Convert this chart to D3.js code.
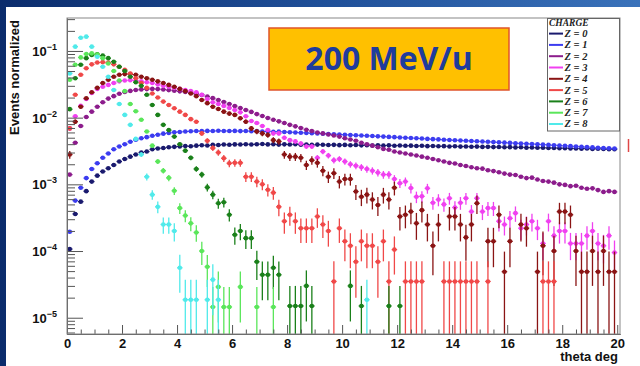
<!DOCTYPE html>
<html>
<head>
<meta charset="utf-8">
<script src="https://cdn.jsdelivr.net/npm/d3@7"></script>
<style>
  html, body { margin: 0; padding: 0; background: #fff; }
  svg { display: block; }
</style>
</head>
<body>
<svg id="chart" width="640" height="366"></svg>
<script>
// ---- data: angular distributions of fragments, one histogram per charge ----
const binWidth = 0.2;               // deg
const charges = ["Z = 0", "Z = 1", "Z = 2", "Z = 3", "Z = 4", "Z = 5", "Z = 6", "Z = 7", "Z = 8"];
const seriesColors = ["#1a1a6e", "#3c3cf0", "#8c1c8c", "#f040f0", "#8a1414", "#f04848", "#1a801a", "#5ae65a", "#50eaea"];
// normalized weight of one entry in each histogram (sets the Poisson error bars)
const entryWeight = [5e-7, 5e-7, 5e-7, 2.5e-5, 4.9e-5, 3.5e-5, 1.5e-5, 1.45e-5, 1.86e-5];

const xTickLabels = ["0", "2", "4", "6", "8", "10", "12", "14", "16", "18", "20"];
const yDecades = [-5, -4, -3, -2, -1];

const z0Values = [
  1.07e-4, 3.6e-4, 5.5e-4, 7.9e-4, 1.1e-3, 1.35e-3, 1.56e-3, 1.74e-3, 1.95e-3, 2.2e-3,
  2.4e-3, 2.6e-3, 2.8e-3, 3.0e-3, 3.1e-3, 3.35e-3, 3.45e-3, 3.5e-3, 3.6e-3, 3.65e-3,
  3.7e-3, 3.75e-3, 3.72e-3, 3.8e-3, 3.85e-3, 3.82e-3, 3.9e-3, 3.88e-3, 3.95e-3, 3.92e-3,
  3.97e-3, 3.95e-3, 4.0e-3, 3.96e-3, 3.99e-3, 4.02e-3, 3.97e-3, 4.0e-3, 3.94e-3, 3.98e-3,
  3.95e-3, 3.99e-3, 3.93e-3, 3.96e-3, 3.9e-3, 3.94e-3, 3.92e-3, 3.88e-3, 3.91e-3, 3.87e-3,
  3.9e-3, 3.86e-3, 3.88e-3, 3.84e-3, 3.87e-3, 3.83e-3, 3.86e-3, 3.8e-3, 3.84e-3, 3.79e-3,
  3.82e-3, 3.78e-3, 3.8e-3, 3.75e-3, 3.78e-3, 3.74e-3, 3.76e-3, 3.72e-3, 3.74e-3, 3.7e-3,
  3.72e-3, 3.68e-3, 3.7e-3, 3.66e-3, 3.68e-3, 3.64e-3, 3.65e-3, 3.62e-3, 3.63e-3, 3.6e-3,
  3.61e-3, 3.58e-3, 3.59e-3, 3.55e-3, 3.56e-3, 3.53e-3, 3.54e-3, 3.5e-3, 3.51e-3, 3.48e-3,
  3.49e-3, 3.46e-3, 3.45e-3, 3.43e-3, 3.44e-3, 3.4e-3, 3.41e-3, 3.38e-3, 3.37e-3, 3.35e-3
];
const z1Values = [
  1.95e-4, 5.7e-4, 8.9e-4, 1.24e-3, 1.7e-3, 2.07e-3, 2.5e-3, 2.9e-3, 3.35e-3, 3.7e-3,
  4.0e-3, 4.35e-3, 4.65e-3, 4.9e-3, 5.1e-3, 5.35e-3, 5.55e-3, 5.75e-3, 5.9e-3, 6.05e-3,
  6.1e-3, 6.2e-3, 6.25e-3, 6.3e-3, 6.28e-3, 6.33e-3, 6.3e-3, 6.35e-3, 6.32e-3, 6.3e-3,
  6.33e-3, 6.28e-3, 6.3e-3, 6.25e-3, 6.27e-3, 6.2e-3, 6.22e-3, 6.15e-3, 6.17e-3, 6.1e-3,
  6.05e-3, 6.0e-3, 5.95e-3, 5.9e-3, 5.85e-3, 5.8e-3, 5.74e-3, 5.7e-3, 5.64e-3, 5.6e-3,
  5.55e-3, 5.5e-3, 5.44e-3, 5.4e-3, 5.35e-3, 5.3e-3, 5.24e-3, 5.2e-3, 5.14e-3, 5.1e-3,
  5.05e-3, 5.0e-3, 4.95e-3, 4.9e-3, 4.86e-3, 4.8e-3, 4.76e-3, 4.72e-3, 4.67e-3, 4.63e-3,
  4.58e-3, 4.55e-3, 4.5e-3, 4.46e-3, 4.42e-3, 4.38e-3, 4.34e-3, 4.3e-3, 4.26e-3, 4.22e-3,
  4.18e-3, 4.14e-3, 4.1e-3, 4.06e-3, 4.02e-3, 3.98e-3, 3.94e-3, 3.9e-3, 3.86e-3, 3.82e-3,
  3.78e-3, 3.74e-3, 3.7e-3, 3.66e-3, 3.62e-3, 3.58e-3, 3.54e-3, 3.5e-3, 3.47e-3, 3.44e-3
];
const z2Values = [
  1.4e-3, 4.2e-3, 7.5e-3, 0.0102, 0.0123, 0.0146, 0.017, 0.0193, 0.021, 0.0228,
  0.0242, 0.0252, 0.026, 0.0265, 0.0268, 0.027, 0.0268, 0.0264, 0.0259, 0.0254,
  0.0248, 0.0242, 0.0235, 0.0227, 0.0219, 0.0207, 0.0196, 0.0184, 0.0172, 0.016,
  0.0149, 0.0139, 0.013, 0.0122, 0.0113, 0.0106, 0.0099, 0.0093, 0.0088, 0.0083,
  0.0078, 0.0074, 0.007, 0.0066, 0.0063, 0.006, 0.0058, 0.0056, 0.0054, 0.0052,
  0.0049, 0.0047, 0.0045, 0.0042, 0.004, 0.0038, 0.0036, 0.0034, 0.0033, 0.0031,
  0.003, 0.0029, 0.0028, 0.0027, 0.0026, 0.0025, 0.0024, 0.0023, 0.0022, 0.0021,
  0.00205, 0.00195, 0.00188, 0.0018, 0.00174, 0.00172, 0.00163, 0.00158, 0.00152, 0.00145,
  0.0014, 0.00138, 0.0013, 0.00124, 0.00126, 0.00118, 0.00112, 0.0011, 0.00106, 0.001,
  0.00098, 0.00094, 0.00095, 0.00089, 0.00086, 0.00087, 0.00082, 0.00077, 0.00079, 0.00077
];
const z3Values = [
  0.0069, 0.0105, 0.015, 0.019, 0.0235, 0.027, 0.029, 0.031, 0.033, 0.035,
  0.036, 0.0365, 0.036, 0.035, 0.034, 0.033, 0.0315, 0.03, 0.029, 0.028,
  0.027, 0.026, 0.025, 0.024, 0.022, 0.019, 0.017, 0.016, 0.015, 0.014,
  0.013, 0.012, 0.0105, 0.0089, 0.0083, 0.0075, 0.0065, 0.0058, 0.0058, 0.005,
  0.0046, 0.0044, 0.0041, 0.0037, 0.0037, 0.0025, 0.0031, 0.0027, 0.0023, 0.0024,
  0.0022, 0.002, 0.0019, 0.0018, 0.0017, 0.0016, 0.0015, 0.0014, 0.0014, 0.0012,
  0.00104, 0.0011, 0.00088, 0.00065, 0.00066, 0.00087, 0.00053, 0.00059, 0.0005, 0.00062,
  0.00045, 0.00053, 0.00062, 0.00039, 0.00062, 0.00039, 0.00044, 0.00044, 0.00028, 0.00025,
  0.00031, 0.00037, 0.00022, 0.00025, 0.00028, 0.00022, 0.00013, 0.00028, 0.00017, 0.0002,
  0.0002, 0.00013, 0.00013, 0.00013, 0.00017, 0.0002, 0.00013, 0.00012, 0.00017, 0.000095
];
const z4Values = [
  0.0028, 0.0087, 0.0146, 0.0195, 0.024, 0.028, 0.033, 0.037, 0.041, 0.044,
  0.045, 0.045, 0.044, 0.041, 0.039, 0.037, 0.035, 0.033, 0.031, 0.029,
  0.027, 0.025, 0.023, 0.021, 0.0184, 0.0165, 0.0146, 0.0135, 0.0123, 0.0115,
  0.011, 0.0098, 0.0087, 0.0069, 0.0062, 0.0058, 0.0055, 0.0046, 0.0044, 0.0028,
  0.0026, 0.0026, 0.0025, 0.00195, 0.0023, 0.0021, 0.0016, 0.0013, 0.00147, 0.0011,
  0.0012, 0.0012, 0.00078, 0.00065, 0.0007, 0.00059, 0.00049, 0.0007, 0.00059, 0.00089,
  0.00033, 0.00035, 0.00039, 0.00026, 0.00041, 0.00025, 0.00012, 0.00025, 0, 0.00033,
  0.00033, 0.00025, 0.00016, 0.00025, 0.00052, 0, 0.00014, 0.00014, 0.00035, 0.000049,
  0.00014, 0, 0.00025, 0.00022, 0, 0.000049, 0.00012, 0, 0.0001, 0.00039,
  0.00039, 0.00035, 0.0001, 0.000049, 0.000049, 0.0001, 0.000049, 0.0001, 0.000049, 0.000049
];
const z5Values = [
  0.0069, 0.022, 0.044, 0.055, 0.063, 0.067, 0.068, 0.067, 0.063, 0.058,
  0.052, 0.046, 0.039, 0.033, 0.028, 0.023, 0.02, 0.0174, 0.0155, 0.0138,
  0.0123, 0.011, 0.0095, 0.0087, 0.0058, 0.0045, 0.0035, 0.003, 0.00246, 0.00207,
  0.0021, 0.0021, 0.0013, 0.0013, 0.0011, 0.001, 0.00083, 0.00075, 0.00046, 0.00028,
  0.00035, 0.00028, 0.00022, 0.00022, 0.00022, 0.00033, 0.00025, 0.0002, 0.000035, 0.00022,
  0.00014, 0.00012, 0.000069, 0.00014, 0.00012, 0.00012, 0.000069, 0.00014, 0.000035, 0.000105,
  0, 0.000035, 0.000035, 0.000035, 0.000035, 0, 0, 0, 0.000035, 0.000035,
  0.000035, 0.000035, 0.000035, 0.000035, 0.000035, 0, 0.000035, 0, 0, 0,
  0, 0, 0, 0, 0, 0, 0.000035, 0.000035, 0.000035, 0,
  0, 0, 0, 0, 0, 0, 0, 0, 0, 0
];
const z6Values = [
  0.0134, 0.039, 0.062, 0.078, 0.087, 0.089, 0.085, 0.078, 0.069, 0.058,
  0.05, 0.041, 0.034, 0.03, 0.022, 0.0155, 0.011, 0.0078, 0.0065, 0.0052,
  0.004, 0.0032, 0.0025, 0.0017, 0.0014, 0.0009, 0.0007, 0.00052, 0.00054, 0.00035,
  0.000175, 0.0002, 0.000156, 0.000156, 0.000069, 0.000044, 0.000044, 0.000056, 0.000044, 0,
  0.000015, 0.000015, 0.000015, 0.00003, 0.000015, 0, 0, 0, 0, 0,
  0, 0.00003, 0, 0.000015, 0, 0, 0, 0, 0.000015, 0,
  0.000015, 0, 0, 0, 0, 0, 0, 0, 0, 0,
  0, 0, 0, 0, 0, 0, 0, 0, 0, 0,
  0, 0, 0, 0, 0, 0, 0, 0, 0, 0,
  0, 0, 0, 0, 0, 0, 0, 0, 0, 0
];
const z7Values = [
  0.037, 0.062, 0.08, 0.09, 0.092, 0.088, 0.078, 0.065, 0.05, 0.036,
  0.025, 0.016, 0.0125, 0.0093, 0.0062, 0.0038, 0.0022, 0.0016, 0.00125, 0.0008,
  0.00044, 0.00034, 0.00026, 0.00019, 0.0001, 0.000058, 0.0000145, 0.000029, 0.0000145, 0.0000145,
  0, 0.000029, 0, 0, 0.0000145, 0, 0, 0.0000145, 0, 0,
  0, 0, 0, 0, 0, 0, 0, 0, 0, 0,
  0, 0, 0, 0, 0, 0, 0, 0, 0, 0,
  0, 0, 0, 0, 0, 0, 0, 0, 0, 0,
  0, 0, 0, 0, 0, 0, 0, 0, 0, 0,
  0, 0, 0, 0, 0, 0, 0, 0, 0, 0,
  0, 0, 0, 0, 0, 0, 0, 0, 0, 0
];
const z8Values = [
  0.046, 0.116, 0.158, 0.164, 0.116, 0.082, 0.058, 0.041, 0.026, 0.016,
  0.011, 0.0078, 0.0048, 0.0028, 0.0013, 0.0007, 0.00046, 0.00025, 0.00025, 0.0002,
  0.000056, 0.0000186, 0.0000186, 0.0000186, 0, 0.0000186, 0.0000372, 0.0000186, 0, 0,
  0, 0, 0, 0, 0, 0, 0, 0, 0, 0,
  0, 0, 0, 0, 0, 0, 0, 0, 0, 0,
  0, 0, 0, 0, 0.0000186, 0, 0, 0, 0, 0,
  0, 0, 0, 0, 0, 0, 0, 0, 0, 0,
  0, 0, 0, 0, 0, 0, 0, 0, 0, 0,
  0, 0, 0, 0, 0, 0, 0, 0, 0, 0,
  0, 0, 0, 0, 0, 0, 0, 0, 0, 0
];
const seriesValues = [z0Values, z1Values, z2Values, z3Values, z4Values, z5Values, z6Values, z7Values, z8Values];

// ---- layout ----
const W = 640, H = 366;
const frame = { left: 67, right: 620, top: 18, bottom: 334 };
const svg = d3.select("#chart");

// slide background and white panel
const defs = svg.append("defs");
const grad = defs.append("linearGradient").attr("id", "slideBg")
  .attr("x1", 0).attr("y1", 0).attr("x2", 1).attr("y2", 0);
grad.append("stop").attr("offset", 0).attr("stop-color", "#0b2c6c");
grad.append("stop").attr("offset", 0.5).attr("stop-color", "#1f4f98");
grad.append("stop").attr("offset", 1).attr("stop-color", "#3a72ba");
svg.append("rect").attr("width", W).attr("height", H).attr("fill", "url(#slideBg)");
svg.append("rect").attr("x", 6).attr("y", 7).attr("width", W - 6).attr("height", H - 7).attr("fill", "#fff");

// scales
const x = d3.scaleLinear().domain([0, 20.1]).range([frame.left, frame.right]);
const y = d3.scaleLog().domain([5.7e-6, 0.312]).range([frame.bottom, frame.top]);
const yMin = y.domain()[0];

const plot = svg.append("g");
const clip = defs.append("clipPath").attr("id", "plotClip");
clip.append("rect").attr("x", frame.left).attr("y", frame.top)
  .attr("width", frame.right - frame.left).attr("height", frame.bottom - frame.top);

// ---- histograms with error bars ----
const marks = plot.append("g").attr("clip-path", "url(#plotClip)");
seriesValues.forEach((vals, s) => {
  const color = seriesColors[s];
  const pts = vals.map((v, i) => ({ c: binWidth * (i + 0.5), v }))
                  .filter(d => d.v > 0);
  const g = marks.append("g").attr("stroke", color).attr("fill", color);
  pts.forEach(d => {
    const err = Math.sqrt(d.v * entryWeight[s]);
    const lo = d.v - err > yMin ? d.v - err : yMin;
    const hi = d.v + err;
    g.append("line")
      .attr("x1", x(d.c)).attr("x2", x(d.c))
      .attr("y1", y(lo)).attr("y2", y(hi))
      .attr("stroke-width", 1.3);
    g.append("line")
      .attr("x1", x(d.c - binWidth / 2)).attr("x2", x(d.c + binWidth / 2))
      .attr("y1", y(d.v)).attr("y2", y(d.v))
      .attr("stroke-width", 1.3);
    g.append("circle")
      .attr("cx", x(d.c)).attr("cy", y(d.v)).attr("r", 2.3)
      .attr("stroke", "none");
  });
});

// ---- axes (ROOT style: ticks pointing inwards) ----
const axisColor = "#555";
const xMajor = d3.range(0, 21, 2);
const xMinor = d3.range(0, 20.01, 0.5).filter(t => t % 2 !== 0);
const xMinorAxis = d3.axisBottom(x).tickValues(xMinor).tickSize(-4.5).tickSizeOuter(0).tickFormat("");
const xMajorAxis = d3.axisBottom(x).tickValues(xMajor).tickSize(-9).tickSizeOuter(0).tickPadding(5)
  .tickFormat((d, i) => xTickLabels[i]);
const gxm = svg.append("g").attr("transform", `translate(0,${frame.bottom})`).call(xMinorAxis);
const gx = svg.append("g").attr("transform", `translate(0,${frame.bottom})`).call(xMajorAxis);
[gxm, gx].forEach(g => {
  g.select(".domain").attr("stroke", axisColor);
  g.selectAll(".tick line").attr("stroke", axisColor);
});
gx.selectAll("text").attr("fill", "#111")
  .style("font-family", "'Liberation Sans', Arial, sans-serif")
  .style("font-size", "13px").style("font-weight", "bold");

const yMajorVals = yDecades.map(e => Math.pow(10, e));
const yMinorVals = [];
[-6, -5, -4, -3, -2, -1].forEach(e => {
  for (let k = 2; k <= 9; k++) {
    const v = k * Math.pow(10, e);
    if (v > y.domain()[0] && v < y.domain()[1]) yMinorVals.push(v);
  }
});
const yMinorAxis = d3.axisLeft(y).tickValues(yMinorVals).tickSize(-8).tickSizeOuter(0).tickFormat("");
const yMajorAxis = d3.axisLeft(y).tickValues(yMajorVals).tickSize(-16).tickSizeOuter(0).tickFormat("");
const gym = svg.append("g").attr("transform", `translate(${frame.left},0)`).call(yMinorAxis);
const gy = svg.append("g").attr("transform", `translate(${frame.left},0)`).call(yMajorAxis);
[gym, gy].forEach(g => {
  g.select(".domain").attr("stroke", axisColor);
  g.selectAll(".tick line").attr("stroke", axisColor);
});

// y tick labels as 10 with superscript exponent
yDecades.forEach(e => {
  const t = svg.append("text")
    .attr("x", 57).attr("y", y(Math.pow(10, e)) + 5)
    .attr("text-anchor", "end")
    .attr("fill", "#111")
    .style("font-family", "'Liberation Sans', Arial, sans-serif")
    .style("font-size", "13px").style("font-weight", "bold");
  t.append("tspan").text("10");
  t.append("tspan").attr("dy", -6).style("font-size", "9px").text("\u2212" + Math.abs(e));
});

// frame top/right
svg.append("rect")
  .attr("x", frame.left).attr("y", frame.top)
  .attr("width", frame.right - frame.left).attr("height", frame.bottom - frame.top)
  .attr("fill", "none").attr("stroke", "#888").attr("stroke-width", 1);

// axis titles
svg.append("text")
  .attr("transform", `translate(19,${frame.top + 2}) rotate(-90)`)
  .attr("text-anchor", "end")
  .attr("fill", "#111")
  .style("font-family", "'Liberation Sans', Arial, sans-serif")
  .style("font-size", "13px").style("font-weight", "bold")
  .text("Events normalized");
svg.append("text")
  .attr("x", frame.right - 2).attr("y", 361)
  .attr("text-anchor", "end")
  .attr("fill", "#111")
  .style("font-family", "'Liberation Sans', Arial, sans-serif")
  .style("font-size", "13px").style("font-weight", "bold")
  .text("theta deg");

// ---- legend ----
const leg = svg.append("g");
leg.append("rect").attr("x", 547.5).attr("y", 18.5).attr("width", 72).attr("height", 112.5)
  .attr("fill", "#fff").attr("stroke", "#666").attr("stroke-width", 1);
leg.append("text").attr("x", 549).attr("y", 25.5)
  .attr("fill", "#222")
  .style("font-family", "'Liberation Serif', 'Times New Roman', serif")
  .style("font-style", "italic").style("font-weight", "bold").style("font-size", "9.5px")
  .text("CHARGE");
charges.forEach((label, i) => {
  const cy = 33.6 + 11.3 * i;
  leg.append("line").attr("x1", 549).attr("x2", 563).attr("y1", cy).attr("y2", cy)
    .attr("stroke", seriesColors[i]).attr("stroke-width", 2);
  leg.append("text").attr("x", 564.5).attr("y", cy + 3.4)
    .attr("fill", "#222")
    .style("font-family", "'Liberation Serif', 'Times New Roman', serif")
    .style("font-style", "italic").style("font-weight", "bold").style("font-size", "10.5px")
    .text(label);
});

// ---- beam energy box ----
const box = svg.append("g");
box.append("rect").attr("x", 269).attr("y", 28).attr("width", 240).attr("height", 62)
  .attr("fill", "#ffc000").attr("stroke", "#e0542a").attr("stroke-width", 1.5);
box.append("text").attr("x", 389).attr("y", 69.5)
  .attr("text-anchor", "middle")
  .attr("fill", "#1f3c9c")
  .style("font-family", "'Open Sans', Lato, sans-serif")
  .style("font-weight", "bold").style("font-size", "32px")
  .text("200 MeV/u");

// small red stroke at the right of the frame
svg.append("line").attr("x1", 628.5).attr("x2", 628.5).attr("y1", 139).attr("y2", 152)
  .attr("stroke", "#e04848").attr("stroke-width", 1.5);
</script>
</body>
</html>
